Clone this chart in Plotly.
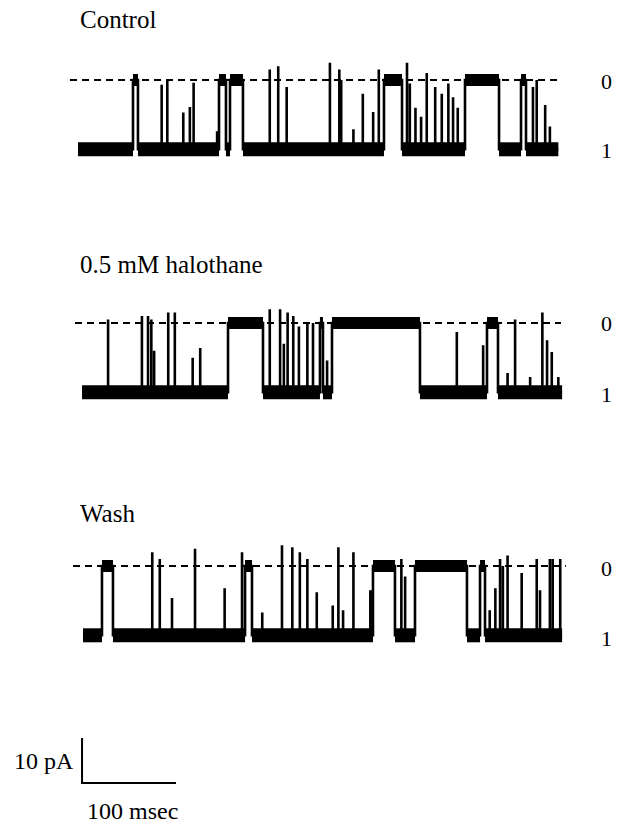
import plotly.graph_objects as go

# ---------------- data (time in ms, current in pA) ----------------
AMP_PA = 15.4                      # unitary current amplitude
panel_names = ["Control", "0.5 mM halothane", "Wash"]
state_labels = ["0", "1"]          # number of open channels
scale_bar_pa = 10
scale_bar_ms = 100
scale_bar_labels = ["10 pA", "100 msec"]

control_span = [0.0, 511.0]
control_closed_start = [58.5, 150.0, 161.7, 325.5, 411.7, 471.3]
control_closed_end = [63.8, 157.4, 175.5, 344.7, 447.9, 476.6]
control_spike_t = [89, 95, 112, 119, 123, 148, 204, 213, 222, 268, 278, 280, 293, 303, 314,
                   320, 350, 353, 359, 365, 371, 380, 387, 394, 399, 404, 484, 488, 497, 502]
control_spike_h = [0.93, 1.0, 0.53, 0.61, 0.96, 0.26, 1.15, 1.2, 0.9, 1.25, 1.15, 1.0, 0.29, 0.8, 0.54,
                   1.15, 1.25, 0.95, 0.6, 0.47, 1.1, 0.9, 0.8, 0.95, 0.75, 0.6, 0.9, 1.0, 0.64, 0.33]

halo_span = [4.3, 515.0]
halo_closed_start = [159.6, 257.4, 270.2, 435.1]
halo_closed_end = [196.8, 260.6, 363.8, 446.8]
halo_spike_t = [32, 68, 74.5, 78, 81, 96, 103, 122, 130, 204, 215, 219, 223, 229, 235, 244, 250,
                265, 403, 431, 457, 465, 481, 494, 499, 504, 511]
halo_spike_h = [1.05, 1.1, 1.1, 1.05, 0.6, 1.15, 1.15, 0.5, 0.64, 1.2, 1.2, 0.7, 1.15, 1.1, 0.95, 1.0, 1.0,
                0.46, 0.87, 0.68, 0.28, 1.05, 0.22, 1.15, 0.75, 0.58, 0.22]

wash_span = [5.3, 515.0]
wash_closed_start = [25.5, 177.7, 313.8, 358.5, 427.7]
wash_closed_end = [37.2, 185.1, 337.2, 413.8, 433.0]
wash_spike_t = [79, 87, 100, 124.5, 156, 174.5, 196, 217, 228, 236, 244, 254, 271, 277, 282, 293, 311,
                344, 348, 438, 444, 449, 452, 457, 472, 488, 491.5, 502, 505, 513]
wash_spike_h = [1.2, 1.1, 0.54, 1.25, 0.68, 1.2, 0.33, 1.3, 1.27, 1.2, 1.1, 0.62, 0.43, 1.27, 0.36, 1.2, 0.65,
                1.1, 0.85, 0.36, 0.68, 1.1, 1.0, 1.15, 0.9, 1.1, 0.65, 1.1, 1.1, 1.1]

# ---------------- layout constants ----------------
W, H = 619, 824
PX_PER_MS = 0.94
PX_PER_PA = 4.5
X0_PX = 78             # pixel of t = 0
Y0_PX = 80             # pixel of control closed level
x_range = [-X0_PX / PX_PER_MS, (W - X0_PX) / PX_PER_MS]
y_range = [(Y0_PX - H) / PX_PER_PA, Y0_PX / PX_PER_PA]

baselines = [0.0, -54.0, -108.0]                       # closed level offset of each sweep
dash_spans = [[-8.5, 511.7], [-3.2, 513.8], [-5.3, 519.0]]

sweeps = [
    (control_span, control_closed_start, control_closed_end, control_spike_t, control_spike_h),
    (halo_span, halo_closed_start, halo_closed_end, halo_spike_t, halo_spike_h),
    (wash_span, wash_closed_start, wash_closed_end, wash_spike_t, wash_spike_h),
]

FONT = "Liberation Serif, Times New Roman, serif"


def build(span, cs, ce, st, sh, base):
    opn = base - AMP_PA
    cls = base
    ev = [(s, 0, e) for s, e in zip(cs, ce)] + [(t, 1, h) for t, h in zip(st, sh)]
    ev.sort()
    x, y = [span[0]], [opn]
    ox, oy, cx, cy = [], [], [], []
    cur = span[0]
    for t, kind, v in ev:
        if kind == 0:
            x += [t, t, v, v]
            y += [opn, cls, cls, opn]
            ox += [cur, t, None]
            oy += [opn, opn, None]
            cx += [t, v, None]
            cy += [cls, cls, None]
            cur = v
        else:
            x += [t, t, t]
            y += [opn, opn + v * AMP_PA, opn]
    x.append(span[1])
    y.append(opn)
    ox += [cur, span[1], None]
    oy += [opn, opn, None]
    return x, y, ox, oy, cx, cy


fig = go.Figure()
for i, (sw, base) in enumerate(zip(sweeps, baselines)):
    x, y, ox, oy, cx, cy = build(*sw, base)
    # dashed closed-level reference
    fig.add_trace(go.Scatter(x=dash_spans[i], y=[base, base], mode="lines",
                             line=dict(color="black", width=2, dash="7px,5px"),
                             hoverinfo="skip", showlegend=False))
    # noise band of dwell periods
    fig.add_trace(go.Scatter(x=ox, y=oy, mode="lines", line=dict(color="black", width=14),
                             hoverinfo="skip", showlegend=False))
    fig.add_trace(go.Scatter(x=cx, y=cy, mode="lines", line=dict(color="black", width=12),
                             hoverinfo="skip", showlegend=False))
    # current record
    fig.add_trace(go.Scatter(x=x, y=y, mode="lines", line=dict(color="black", width=2.6),
                             hoverinfo="skip", showlegend=False))

# scale bar
sb_t0 = 4.3
sb_y0 = -156.2
fig.add_trace(go.Scatter(x=[sb_t0, sb_t0, sb_t0 + scale_bar_ms],
                         y=[sb_y0 + scale_bar_pa, sb_y0, sb_y0],
                         mode="lines", line=dict(color="black", width=2),
                         hoverinfo="skip", showlegend=False))


def px(xp, yp):
    """page pixel -> paper fraction"""
    return xp / W, 1 - yp / H


ann = []
title_y = [19, 264, 513]
state_y = [(82, 150), (323, 394), (568, 638)]
for i, name in enumerate(panel_names):
    ax, ay = px(78, title_y[i])
    ann.append(dict(x=ax, y=ay, text=name, xanchor="left", yanchor="middle",
                    font=dict(size=25, family=FONT, color="black")))
    for lab, yy in zip(state_labels, state_y[i]):
        ax, ay = px(606, yy)
        ann.append(dict(x=ax, y=ay, text=lab, xanchor="center", yanchor="middle",
                        font=dict(size=22, family=FONT, color="black")))
ax, ay = px(76, 761)
ann.append(dict(x=ax, y=ay, text=scale_bar_labels[0], xanchor="right", yanchor="middle",
                font=dict(size=24, family=FONT, color="black")))
ax, ay = px(85, 811)
ann.append(dict(x=ax, y=ay, text=scale_bar_labels[1], xanchor="left", yanchor="middle",
                font=dict(size=24, family=FONT, color="black")))
for a in ann:
    a.update(xref="paper", yref="paper", showarrow=False)

fig.update_layout(
    width=W, height=H, autosize=False,
    margin=dict(l=0, r=0, t=0, b=0, pad=0),
    paper_bgcolor="white", plot_bgcolor="white",
    xaxis=dict(range=x_range, visible=False, fixedrange=True),
    yaxis=dict(range=y_range, visible=False, fixedrange=True),
    annotations=ann,
)

fig.write_html(
    "out.html",
    config={"displayModeBar": False},
    post_script="document.body.style.margin='0';document.body.style.overflow='hidden';",
)
